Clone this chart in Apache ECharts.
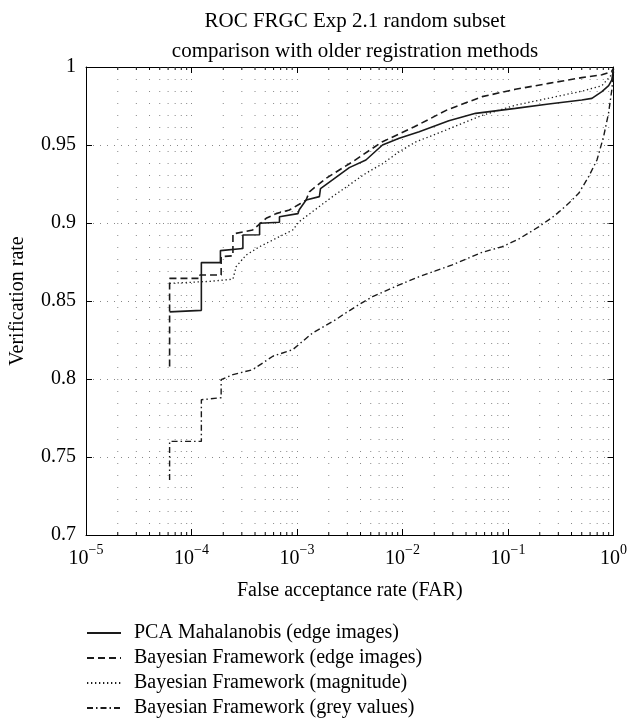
<!DOCTYPE html>
<html>
<head>
<meta charset="utf-8">
<script src="https://cdn.jsdelivr.net/npm/echarts@6/dist/echarts.min.js"></script>
<style>
html, body { margin: 0; padding: 0; background: #fff; }
#chart { width: 630px; height: 721px; }
</style>
</head>
<body>
<div id="chart"></div>
<script>
// 数据：FAR / 验证率
var pcaFar = [6.2e-5, 1.24e-4, 1.24e-4, 1.88e-4, 1.88e-4, 3.07e-4, 3.07e-4, 4.42e-4, 4.42e-4, 6.82e-4, 6.82e-4, 1.02e-3, 1.05e-3, 1.22e-3, 1.63e-3, 1.67e-3, 2.17e-3, 3.13e-3, 4.5e-3, 6.46e-3, 9.3e-3, 1.44e-2, 2.75e-2, 4.93e-2, 0.1175, 0.243, 0.5, 0.624, 0.776, 0.9, 0.964, 1];
var pcaRate = [0.843, 0.844, 0.8746, 0.8746, 0.8823, 0.8837, 0.8923, 0.8925, 0.8998, 0.9005, 0.904, 0.906, 0.9085, 0.9147, 0.9169, 0.922, 0.9276, 0.9355, 0.9404, 0.95, 0.9543, 0.9585, 0.9655, 0.9703, 0.9735, 0.9763, 0.9788, 0.9799, 0.9842, 0.988, 0.9917, 0.999];

var edgeFar = [6.2e-5, 6.2e-5, 1.2e-4, 1.2e-4, 1.91e-4, 1.91e-4, 2.47e-4, 2.47e-4, 3.8e-4, 5.1e-4, 6.34e-4, 8.47e-4, 1.05e-3, 1.22e-3, 1.31e-3, 1.88e-3, 3.37e-3, 5.2e-3, 6.46e-3, 1.28e-2, 2.65e-2, 5.69e-2, 0.1175, 0.243, 0.501, 0.776, 0.955, 1];
var edgeRate = [0.808, 0.8645, 0.8645, 0.8667, 0.8667, 0.8784, 0.879, 0.893, 0.8955, 0.903, 0.906, 0.9083, 0.912, 0.9147, 0.92, 0.9286, 0.9393, 0.9479, 0.9521, 0.9615, 0.9725, 0.981, 0.9857, 0.9895, 0.9932, 0.995, 0.997, 0.999];

var magFar = [6.2e-5, 1.5e-4, 2.47e-4, 2.65e-4, 3.3e-4, 4.42e-4, 6.34e-4, 9.1e-4, 1.05e-3, 2.17e-3, 4.5e-3, 6.46e-3, 9.3e-3, 1.34e-2, 2.57e-2, 5.69e-2, 0.1175, 0.243, 0.501, 0.776, 0.955, 1];
var magRate = [0.8613, 0.8626, 0.864, 0.872, 0.8795, 0.8848, 0.8902, 0.8955, 0.9009, 0.9169, 0.9319, 0.938, 0.9457, 0.952, 0.9595, 0.969, 0.9755, 0.98, 0.9845, 0.988, 0.995, 0.998];

var greyFar = [6.2e-5, 6.2e-5, 1.24e-4, 1.24e-4, 1.91e-4, 1.91e-4, 2.47e-4, 3.81e-4, 5.9e-4, 9.1e-4, 1.41e-3, 2.34e-3, 2.7e-3, 3.89e-3, 5.2e-3, 9.3e-3, 1.44e-2, 2.96e-2, 5.69e-2, 8.8e-2, 0.126, 0.195, 0.243, 0.281, 0.376, 0.468, 0.581, 0.697, 0.805, 0.897, 0.964, 1];
var greyRate = [0.7353, 0.76, 0.76, 0.7867, 0.788, 0.7996, 0.8028, 0.806, 0.8146, 0.8188, 0.8296, 0.8381, 0.841, 0.8478, 0.8528, 0.8603, 0.8656, 0.8731, 0.8812, 0.8848, 0.8897, 0.8975, 0.902, 0.9051, 0.9126, 0.919, 0.9297, 0.9404, 0.9553, 0.9703, 0.9853, 0.997];

var seriesNames = ['PCA Mahalanobis (edge images)', 'Bayesian Framework (edge images)', 'Bayesian Framework (magnitude)', 'Bayesian Framework (grey values)'];

// 对数轴刻度：主刻度指数与次刻度倍数
var decadeExp = [-5, -4, -3, -2, -1, 0];
var minorMult = [2, 3, 4, 5, 6, 7, 8, 9];

var minorTicks = [];
decadeExp.slice(0, -1).forEach(function (e) {
	minorMult.forEach(function (m) {
		minorTicks.push([m * Math.pow(10, e), 0.7]);
	});
});

function zip(a, b) {
	return a.map(function (v, i) { return [v, b[i]]; });
}

var supDigits = { '-5': '−5', '-4': '−4', '-3': '−3', '-2': '−2', '-1': '−1', '0': '0' };
var FONT = 'Liberation Serif';
var INK = '#1a1a1a';

var chart = echarts.init(document.getElementById('chart'));

var xAxisBase = {
	type : 'log',
	logBase : 10,
	min : 1e-5,
	max : 1,
	axisLine : { lineStyle : { color : '#000', width : 1 } },
	axisTick : { inside : true, length : 6, lineStyle : { color : '#000' } },
	minorTick : { show : false },
	splitLine : { show : false }
};

var option = {
	backgroundColor : '#fff',
	animation : false,
	title : {
		text : 'ROC FRGC Exp 2.1 random subset\ncomparison with older registration methods',
		left : 350,
		top : 1,
		textAlign : 'center',
		textStyle : {
			fontFamily : FONT,
			fontWeight : 'normal',
			fontSize : 21,
			lineHeight : 30,
			color : '#000'
		}
	},
	grid : {
		left : 86,
		right : 15,
		top : 67,
		bottom : 186,
		containLabel : false
	},
	legend : {
		orient : 'vertical',
		left : 86,
		top : 622,
		height : 99,
		padding : 0,
		itemWidth : 34,
		itemHeight : 14,
		itemGap : 3,
		data : seriesNames,
		itemStyle : { opacity : 0 },
		textStyle : {
			fontFamily : FONT,
			fontSize : 20,
			lineHeight : 22,
			color : '#000',
			padding : [0, 0, 0, 8]
		}
	},
	xAxis : [
		Object.assign({}, xAxisBase, {
			position : 'bottom',
			name : 'False acceptance rate (FAR)',
			nameLocation : 'middle',
			nameGap : 46,
			nameTextStyle : { fontFamily : FONT, fontSize : 20, color : '#000' },
			splitLine : { show : true, lineStyle : { color : '#888', width : 1, type : [1, 11] } },
			axisLabel : {
				margin : 8,
				formatter : function (v) {
					var e = Math.round(Math.log(v) / Math.LN10);
					return '{b|10}{s|' + supDigits[String(e)] + '}';
				},
				rich : {
					b : { fontFamily : FONT, fontSize : 20, color : '#000', lineHeight : 26, verticalAlign : 'bottom' },
					s : { fontFamily : FONT, fontSize : 14, color : '#000', lineHeight : 14, verticalAlign : 'top' }
				}
			}
		}),
		Object.assign({}, xAxisBase, {
			position : 'top',
			axisLabel : { show : false }
		})
	],
	yAxis : [ {
		type : 'value',
		min : 0.7,
		max : 1,
		interval : 0.05,
		position : 'left',
		name : 'Verification rate',
		nameLocation : 'middle',
		nameRotate : 90,
		nameGap : 58,
		nameTextStyle : { fontFamily : FONT, fontSize : 20, color : '#000' },
		axisLine : { show : true, lineStyle : { color : '#000', width : 1 } },
		axisTick : { show : true, inside : true, length : 6, lineStyle : { color : '#000' } },
		axisLabel : { fontFamily : FONT, fontSize : 20, color : '#000', margin : 10 },
		splitLine : { show : true, lineStyle : { color : '#888', width : 1, type : [1, 6] } }
	}, {
		type : 'value',
		min : 0.7,
		max : 1,
		interval : 0.05,
		position : 'right',
		axisLine : { show : true, lineStyle : { color : '#000', width : 1 } },
		axisTick : { show : true, inside : true, length : 6, lineStyle : { color : '#000' } },
		axisLabel : { show : false },
		splitLine : { show : false }
	} ],
	series : [ {
		// 次刻度网格线与刻度
		type : 'custom',
		silent : true,
		z : 1,
		data : minorTicks,
		renderItem : function (params, api) {
			var x = api.coord([api.value(0), api.value(1)])[0];
			var top = params.coordSys.y;
			var bottom = top + params.coordSys.height;
			return {
				type : 'group',
				children : [ {
					type : 'line',
					shape : { x1 : x, y1 : top, x2 : x, y2 : bottom },
					style : { stroke : '#888', lineWidth : 1, lineDash : [1, 11] }
				}, {
					type : 'line',
					shape : { x1 : x, y1 : bottom, x2 : x, y2 : bottom - 3 },
					style : { stroke : '#000', lineWidth : 1 }
				}, {
					type : 'line',
					shape : { x1 : x, y1 : top, x2 : x, y2 : top + 3 },
					style : { stroke : '#000', lineWidth : 1 }
				} ]
			};
		}
	}, {
		name : seriesNames[0],
		type : 'line',
		symbol : 'none',
		z : 5,
		data : zip(pcaFar, pcaRate),
		lineStyle : { color : INK, width : 1.6, type : 'solid' },
		itemStyle : { color : INK }
	}, {
		name : seriesNames[1],
		type : 'line',
		symbol : 'none',
		z : 4,
		data : zip(edgeFar, edgeRate),
		lineStyle : { color : INK, width : 1.6, type : [7, 4] },
		itemStyle : { color : INK }
	}, {
		name : seriesNames[2],
		type : 'line',
		symbol : 'none',
		z : 3,
		data : zip(magFar, magRate),
		lineStyle : { color : INK, width : 1.3, type : [1.3, 2.7] },
		itemStyle : { color : INK }
	}, {
		name : seriesNames[3],
		type : 'line',
		symbol : 'none',
		z : 3,
		data : zip(greyFar, greyRate),
		lineStyle : { color : INK, width : 1.4, type : [6, 3, 1.5, 3] },
		itemStyle : { color : INK }
	} ]
};

chart.setOption(option);
</script>
</body>
</html>
